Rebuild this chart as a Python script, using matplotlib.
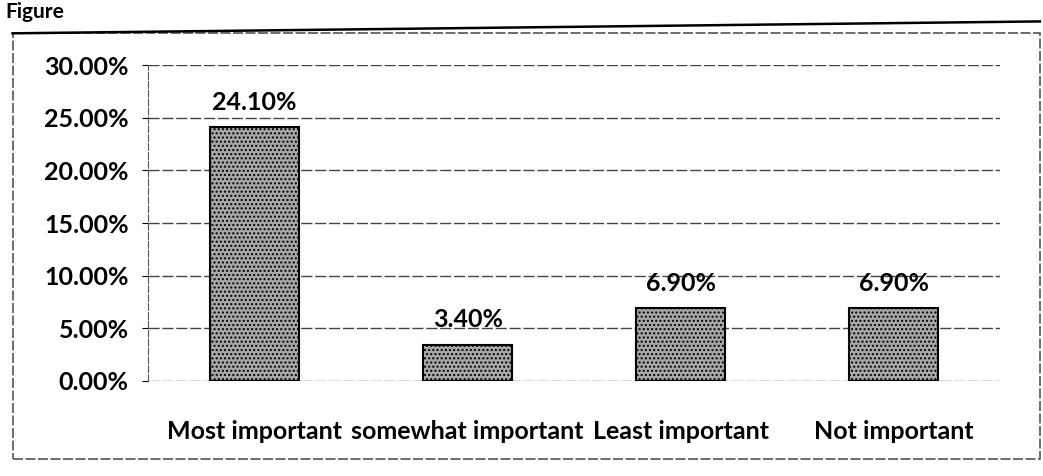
import numpy as np
import matplotlib.pyplot as plt
from matplotlib.patches import Rectangle
from matplotlib.ticker import PercentFormatter

categories = ['Most important', 'somewhat important', 'Least important', 'Not important']
values = [24.10, 3.40, 6.90, 6.90]
yticks = [0, 5, 10, 15, 20, 25, 30]

plt.rcParams['font.family'] = ['Lato', 'DejaVu Sans']
plt.rcParams['hatch.color'] = '#555555'

fig = plt.figure(figsize=(10.43, 4.76), dpi=100)
fig.patch.set_facecolor('white')

# outer chart frame like the scanned page
frame = Rectangle((0.012, 0.035), 0.985, 0.895, transform=fig.transFigure,
                  fill=False, edgecolor='#555555', linewidth=1.2, linestyle=(0, (6, 1.5)))
fig.add_artist(frame)
fig.add_artist(plt.Line2D([0.012, 0.997], [0.93, 0.955], transform=fig.transFigure,
                          color='black', linewidth=1.8))
fig.text(0.005, 0.995, 'Figure', fontsize=15, fontweight='bold', va='top', ha='left')

ax = fig.add_axes([0.142, 0.2, 0.817, 0.663])
x = np.arange(len(categories))
ax.bar(x, values, width=0.42, color='#a8a8a8', edgecolor='black', linewidth=1.5,
       hatch='....', zorder=3)

for xi, v in zip(x, values):
    ax.text(xi, v + 1.3, '%.2f%%' % v, ha='center', va='bottom', fontsize=18, fontweight='bold')

ax.set_ylim(0, 30)
ax.set_xlim(-0.5, len(categories) - 0.5)
ax.set_yticks(yticks)
ax.yaxis.set_major_formatter(PercentFormatter(decimals=2))
ax.set_xticks(x)
ax.set_xticklabels(categories)
ax.tick_params(axis='y', labelsize=18, length=4, pad=10)
ax.tick_params(axis='x', labelsize=18, length=0, pad=28)
for lab in ax.get_xticklabels() + ax.get_yticklabels():
    lab.set_fontweight('bold')

ax.grid(axis='y', color='#444444', linewidth=1.0, linestyle=(0, (8, 2)), zorder=0)
for s in ['top', 'right', 'bottom']:
    ax.spines[s].set_visible(False)
ax.spines['left'].set_color('#555555')
ax.spines['left'].set_linestyle((0, (6, 2)))

plt.savefig('out.png', dpi=100)
